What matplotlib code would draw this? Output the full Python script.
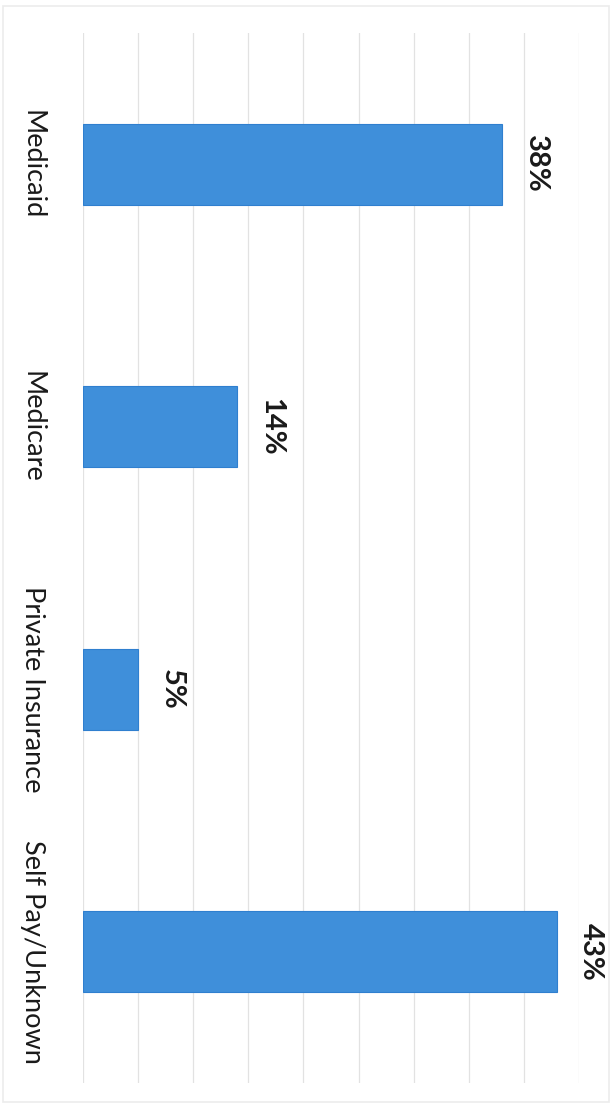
import matplotlib
matplotlib.use("Agg")
import matplotlib.pyplot as plt
from matplotlib.patches import Rectangle

categories = ["Medicaid", "Medicare", "Private Insurance", "Self Pay/Unknown"]
values = [38, 14, 5, 43]
value_labels = ["38%", "14%", "5%", "43%"]

W, H = 612, 1110
fig = plt.figure(figsize=(W / 100, H / 100), dpi=100)
fig.patch.set_facecolor("white")

ax = fig.add_axes([83 / W, 1 - 1083 / H, (579 - 83) / W, (1083 - 33) / H])
pos = list(range(len(categories)))
ax.barh(pos, values, height=0.31, color="#3F8FDA", edgecolor="#2f7fcf", linewidth=0.8, zorder=3)
ax.set_xlim(0, 45)
ax.set_ylim(len(categories) - 0.5, -0.5)
ax.set_xticks(range(0, 50, 5))
ax.grid(axis="x", color="#e2e2e2", linewidth=0.9, zorder=0)
ax.tick_params(axis="x", bottom=False, labelbottom=False)
ax.set_yticks(pos)
ax.set_yticklabels(categories, rotation=-90, va="center", ha="center", family="Lato", fontsize=19.5, color="#1a1a1a")
ax.tick_params(axis="y", left=False, pad=33)
for s in ax.spines.values():
    s.set_visible(False)

for i, (v, lab) in enumerate(zip(values, value_labels)):
    ax.text(v + 1.9, i, lab, rotation=-90, ha="left", va="center", family="Lato",
            fontweight="bold", fontsize=21, color="#1a1a1a")

fig.add_artist(Rectangle((3 / W, 8 / H), (W - 6) / W, (H - 14) / H, transform=fig.transFigure,
                         fill=False, edgecolor="#ececec", linewidth=1.2))

fig.savefig("out.png", dpi=100, facecolor="white")
